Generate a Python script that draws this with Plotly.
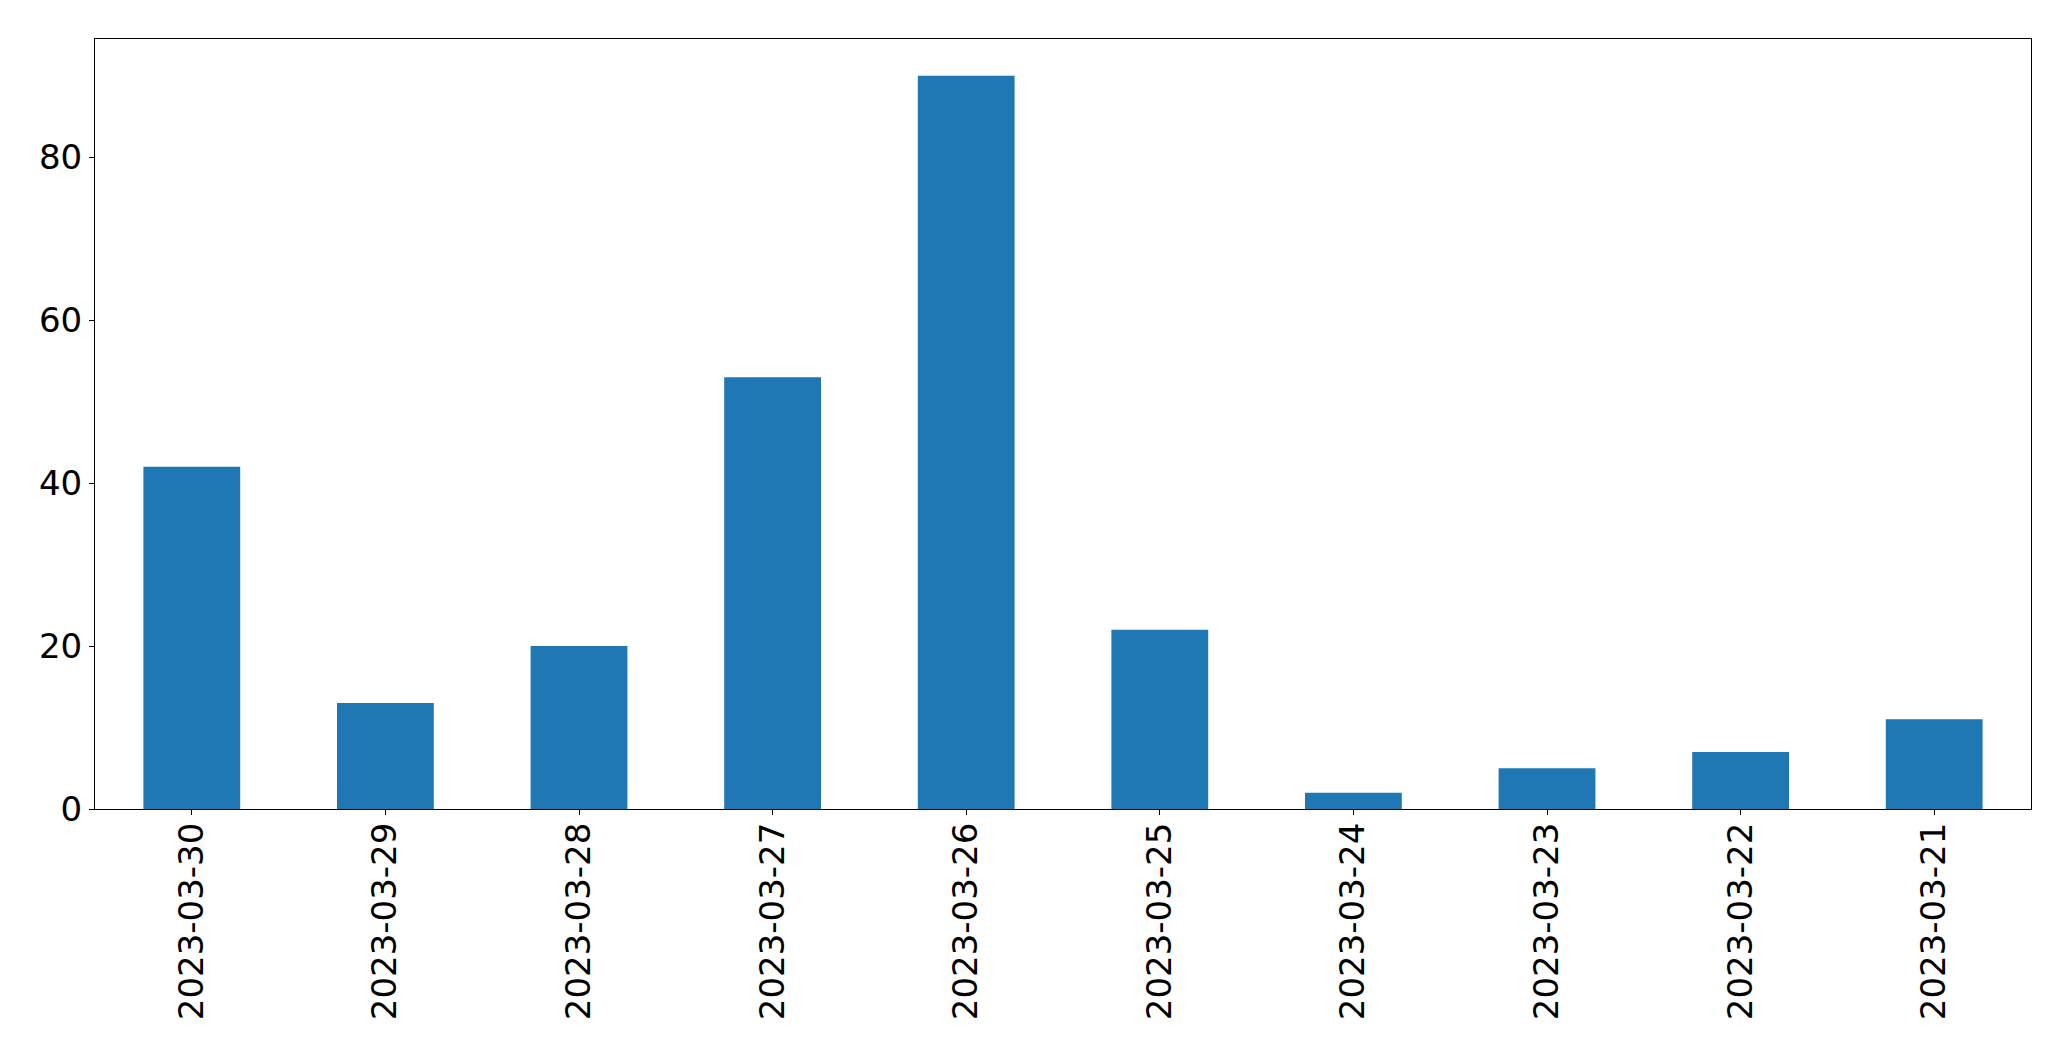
import plotly.graph_objects as go

categories = ["2023-03-30", "2023-03-29", "2023-03-28", "2023-03-27", "2023-03-26",
              "2023-03-25", "2023-03-24", "2023-03-23", "2023-03-22", "2023-03-21"]
values = [42, 13, 20, 53, 90, 22, 2, 5, 7, 11]
y_ticks = [0, 20, 40, 60, 80]

fig = go.Figure()
fig.add_trace(go.Bar(x=categories, y=values, width=0.5, marker=dict(color="#1f77b4", line=dict(width=0))))

font = dict(family="DejaVu Sans", size=34, color="black")
fig.update_layout(
    width=2071, height=1061,
    margin=dict(l=95, r=40, t=39, b=252, pad=0),
    paper_bgcolor="white", plot_bgcolor="white",
    showlegend=False, bargap=0.5,
    font=font,
)
fig.update_xaxes(
    type="category", range=[-0.5, 9.5], tickangle=-90,
    showline=True, linecolor="black", linewidth=1.1, mirror=True,
    ticks="outside", ticklen=5, tickwidth=1.1, tickcolor="black",
    showgrid=False, zeroline=False, tickfont=font, ticklabelstandoff=-6,
)
fig.update_yaxes(
    range=[0, 94.5], tickvals=y_ticks,
    showline=True, linecolor="black", linewidth=1.1, mirror=True,
    ticks="outside", ticklen=5, tickwidth=1.1, tickcolor="black",
    showgrid=False, zeroline=False, tickfont=font, ticklabelstandoff=0,
)
fig.write_html("out.html")
